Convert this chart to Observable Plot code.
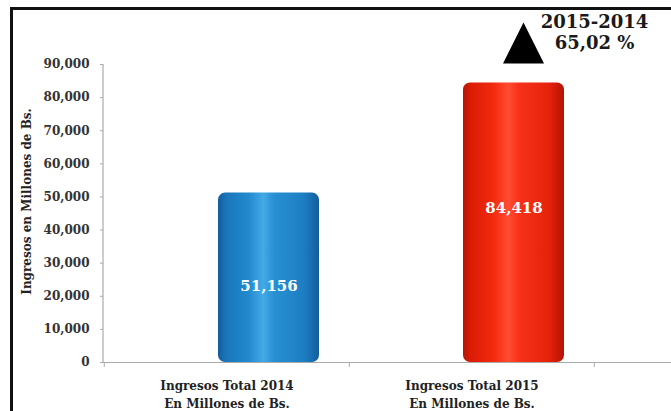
<!DOCTYPE html>
<html>
<head>
<meta charset="utf-8">
<script src="https://cdn.jsdelivr.net/npm/d3@7"></script>
<script src="https://cdn.jsdelivr.net/npm/@observablehq/plot@0.6"></script>
<style>
  html, body { margin: 0; padding: 0; background: #fff; }
  #wrap { position: relative; width: 671px; height: 411px; overflow: hidden; background: #fff; }
  #border { position: absolute; left: 10px; top: 7px; width: 800px; height: 600px;
            border-left: 3px solid #111; border-top: 3px solid #111; pointer-events: none; }
</style>
</head>
<body>
<div id="wrap"><div id="border"></div></div>
<script>
// ---- data ----
const categories = ["Ingresos Total 2014\nEn Millones de Bs.", "Ingresos Total 2015\nEn Millones de Bs.", ""];
const values = [51156, 84418];
const yTicks = [0, 10000, 20000, 30000, 40000, 50000, 60000, 70000, 80000, 90000];
const yLabel = "Ingresos en Millones de Bs.";
const changeTitle = "2015-2014";
const changeValue = "65,02 %";

// ---- styles ----
const gradStops = [
  [[0, "#125c9c"], [0.08, "#1a76ba"], [0.3, "#2289ce"], [0.45, "#44a9e6"], [0.55, "#2890d4"], [0.85, "#1d7ec2"], [1, "#135e9e"]],
  [[0, "#b81405"], [0.08, "#dc1c06"], [0.3, "#f22a0e"], [0.45, "#ff4c32"], [0.55, "#f8321a"], [0.85, "#e6220a"], [1, "#b51304"]]
];

const data = values.map((v, i) => ({cat: categories[i], value: v, grad: `url(#cyl${i})`}));
const fmt = d3.format(",");
const serif = "DejaVu Serif";

function defsMark() {
  const defs = d3.create("svg:defs");
  gradStops.forEach((stops, i) => {
    const g = defs.append("linearGradient").attr("id", `cyl${i}`)
      .attr("x1", "0").attr("x2", "1").attr("y1", "0").attr("y2", "0");
    stops.forEach(([o, c]) => g.append("stop").attr("offset", o).attr("stop-color", c));
  });
  return defs.node();
}

function yAxisLine(index, scales, values, dimensions) {
  const y = scales.y;
  const x0 = dimensions.marginLeft;
  const line = d3.create("svg:line")
    .attr("x1", x0).attr("x2", x0)
    .attr("y1", y(yTicks[0])).attr("y2", y(yTicks[yTicks.length - 1]))
    .attr("stroke", "#aaa").attr("stroke-width", 1.2);
  return line.node();
}

const triangle = {
  draw(ctx, size) {
    const s = Math.sqrt(size);
    ctx.moveTo(0, -s / 2);
    ctx.lineTo(s / 2, s / 2);
    ctx.lineTo(-s / 2, s / 2);
    ctx.closePath();
  }
};

const bw = 245.5;
const chart = Plot.plot({
  width: 671,
  height: 411,
  marginLeft: 103,
  marginRight: 0,
  marginTop: 64,
  marginBottom: 49,
  style: {fontFamily: serif, background: "transparent"},
  x: {domain: categories, range: [103, 103 + 3 * bw], padding: 0},
  y: {domain: [0, 90000]},
  color: {type: "identity"},
  marks: [
    defsMark,
    Plot.barY(data, {x: "cat", y: "value", fill: "grad", insetLeft: 114, insetRight: 30, rx: 7}),
    Plot.ruleY([0], {stroke: "#aaa", strokeWidth: 1.2}),
    yAxisLine,
    Plot.axisY({ticks: yTicks, tickFormat: fmt, tickSize: 3, tickPadding: 11, stroke: "#aaa",
                fill: "#333", fontSize: 12, fontWeight: "bold", label: null}),
    Plot.axisX({tickSize: 0, tickPadding: 15, fontSize: 12, fontWeight: "bold", lineHeight: 1.5,
                fill: "#222", label: null}),
    Plot.axisX({tickSize: 5, dx: -bw / 2, tickFormat: () => "", stroke: "#aaa", label: null}),
    Plot.text([yLabel], {text: d => d, frameAnchor: "left", textAnchor: "middle", lineAnchor: "middle",
                rotate: -90, dx: -76, dy: -12, fontSize: 12, fontWeight: "bold", fill: "#222"}),
    Plot.text(data.slice(0, 1), {x: "cat", y: d => d.value / 2, text: d => fmt(d.value), dx: 42, dy: 8,
                fill: "white", fontSize: 15, fontWeight: "bold"}),
    Plot.text(data.slice(1, 2), {x: "cat", y: d => d.value / 2, text: d => fmt(d.value), dx: 42, dy: -15,
                fill: "white", fontSize: 15, fontWeight: "bold"}),
    Plot.dot([changeTitle], {frameAnchor: "top-left", symbol: triangle, r: 23.1, fill: "black",
                dx: 420, dy: -21.5}),
    Plot.text([changeTitle + "\n" + changeValue], {text: d => d, frameAnchor: "top-right", textAnchor: "middle",
                lineAnchor: "middle", dx: -77, dy: -33, fontSize: 18, fontWeight: "bold", lineHeight: 1.17,
                fill: "#1a1a1a"})
  ]
});
document.getElementById("wrap").prepend(chart);
</script>
</body>
</html>
